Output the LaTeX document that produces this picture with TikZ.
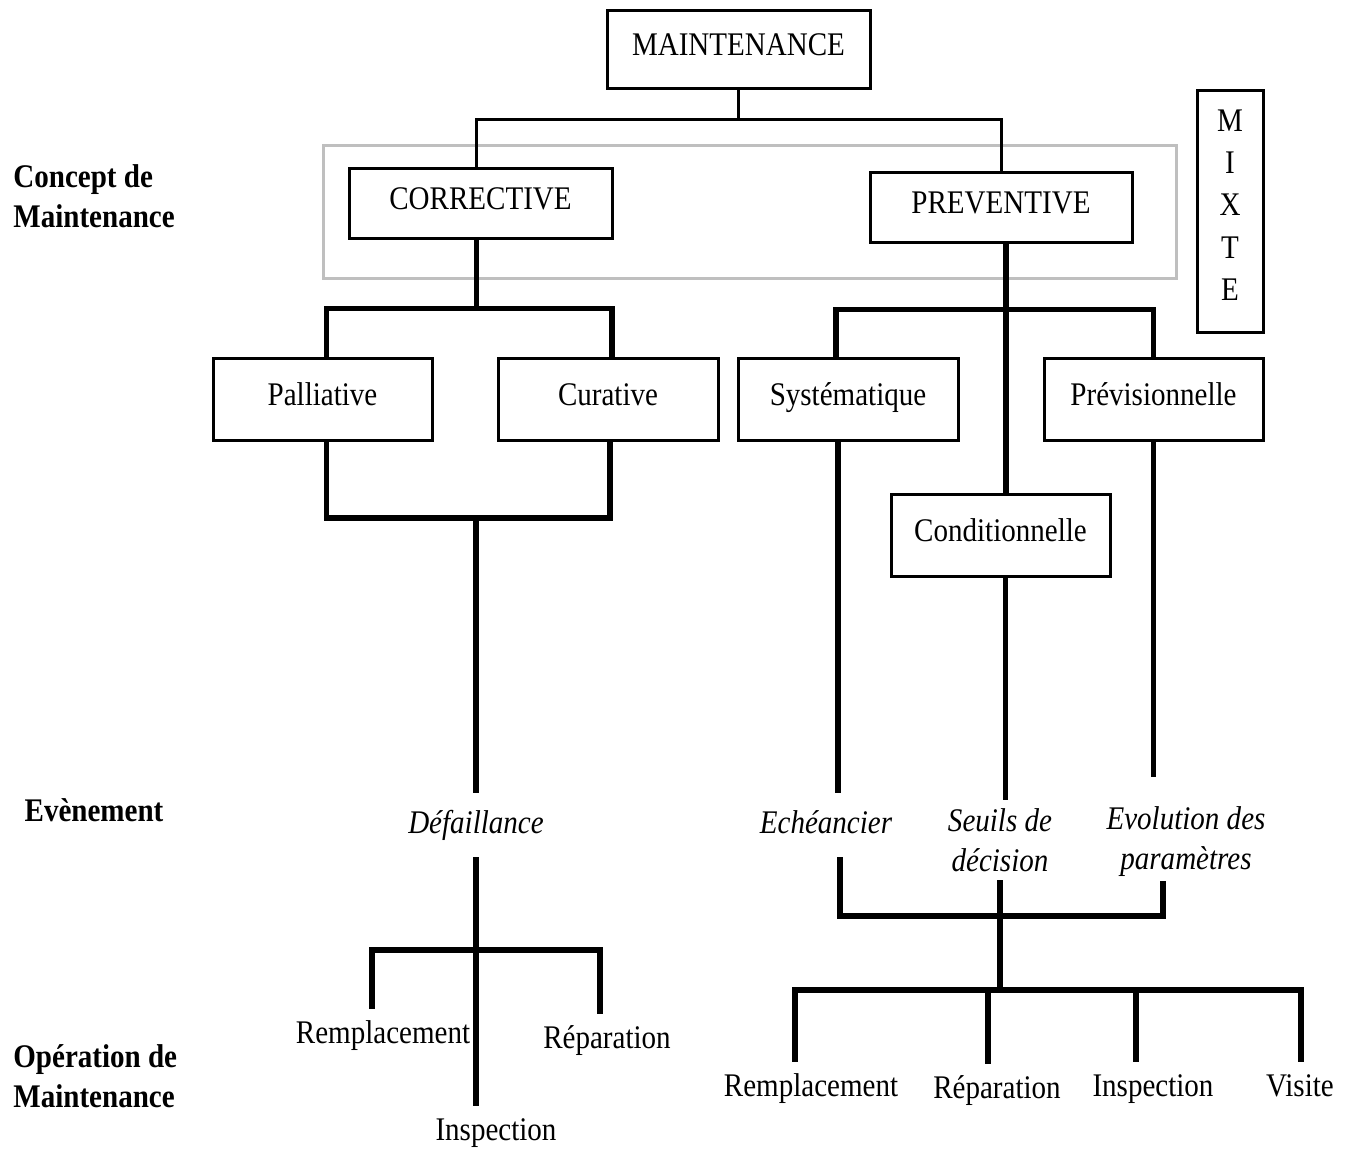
\documentclass[tikz,border=0pt]{standalone}
\usepackage{fontspec}
\setmainfont{Liberation Serif}[FakeStretch=0.88]
\newcommand{\diagfont}{\fontsize{16.5}{20}\selectfont}

\tikzset{
  box/.style={draw, line width=1.5pt, inner sep=0pt, font=\diagfont,
    text height=12pt, text depth=6pt},
  event/.style={font=\diagfont\itshape, align=center, inner xsep=0pt, inner ysep=8pt},
  oper/.style={font=\diagfont, inner xsep=0pt, inner ysep=5pt,
    text height=12pt, text depth=4pt},
  level/.style={font=\diagfont\bfseries, align=left, inner sep=0pt},
  thinlink/.style={line width=1.5pt},
  link/.style={line width=2.6pt}
}

\begin{document}
\begin{tikzpicture}[x=0.5pt, y=-0.5pt]
    \fill[white] (0,0) rectangle (1351,1148);
    \useasboundingbox (0,0) rectangle (1351,1148);

    % Concept frame
    \draw[black!25, line width=1.5pt] (323,145) rectangle (1176,278);

    % Boxes
    \node[box, minimum width=131.5pt, minimum height=39pt] (main) at (738.5,49) {MAINTENANCE};
    \node[box, minimum width=131.5pt, minimum height=35pt] (corr) at (480.5,203) {CORRECTIVE};
    \node[box, minimum width=131pt, minimum height=35pt] (prev) at (1001,207) {PREVENTIVE};
    \node[draw, line width=1.5pt, font=\fontsize{16.5}{21.2}\selectfont, align=center,
          text depth=6pt, minimum width=33pt, minimum height=121pt] (mixte) at (1230,211)
          {M\\I\\X\\T\\E};
    \node[box, minimum width=109.5pt, minimum height=41pt] (pall) at (322.5,399) {Palliative};
    \node[box, minimum width=110pt, minimum height=41pt] (cur) at (608,399) {Curative};
    \node[box, minimum width=110pt, minimum height=41pt] (syst) at (848,399) {Systématique};
    \node[box, minimum width=109.5pt, minimum height=41pt] (previ) at (1153.5,399) {Prévisionnelle};
    \node[box, minimum width=109.5pt, minimum height=41pt] (cond) at (1000.5,535) {Conditionnelle};

    % Level labels
    \node[level, anchor=west] (lconc) at (13,196) {Concept de\\Maintenance};
    \node[level] (levt) at (94,810) {Evènement};
    \node[level, anchor=west] (lop) at (13,1076) {Opération de\\Maintenance};

    % Events
    \node[event, text height=12pt, text depth=4pt] (def) at (476,825) {Défaillance};
    \node[event, text height=12pt, text depth=4pt] (eche) at (826,825) {Echéancier};
    \node[event, inner ysep=4pt] (seuil) at (1000,840) {Seuils de\\décision};
    \node[event, inner ysep=2pt] (evol) at (1186,842) {Evolution des\\paramètres};

    % Operations
    \node[oper] (l1) at (383,1035) {Remplacement};
    \node[oper] (l2) at (607,1040) {Réparation};
    \node[oper] (l3) at (496,1132) {Inspection};
    \node[oper] (r1) at (811,1088) {Remplacement};
    \node[oper] (r2) at (997,1090) {Réparation};
    \node[oper] (r3) at (1153,1088) {Inspection};
    \node[oper] (r4) at (1300,1088) {Visite};

    % Top split
    \draw[thinlink] (main.south) -- ++(0,30) coordinate (mj);
    \draw[thinlink] ([xshift=-2pt]corr.north) |- (mj) -| (prev.north);

    % Corrective branch
    \draw[link] ([xshift=-2pt]corr.south) -- ++(0,69) coordinate (cj);
    \draw[link] ([xshift=2pt]pall.north) |- (cj) -| ([xshift=2pt]cur.north);
    \coordinate (pj) at (476,518);
    \draw[link] ([xshift=2pt]pall.south) |- (pj) -| ([xshift=1pt]cur.south);
    \draw[link] (pj) -- (def.north);
    \coordinate (dj) at (476,950);
    \draw[link] (def.south) -- (def.south |- l3.north);
    \draw[link] ([xshift=-5.5pt]l1.north) |- (dj) -| ([xshift=-3.5pt]l2.north);

    % Preventive branch
    \draw[link] ([xshift=2.5pt]prev.south) -- ++(0,66) coordinate (sj);
    \draw[link] ([xshift=-6pt]syst.north) |- (sj) -| (previ.north);
    \draw[link] (sj) -- (sj |- cond.north);
    \draw[link] ([xshift=-5pt]syst.south) -- ([xshift=-5pt]syst.south |- eche.north);
    \draw[link] ([xshift=2.5pt]cond.south) -- ([xshift=2.5pt]cond.south |- seuil.north);
    \draw[link, shorten >=13pt] (previ.south) -- (previ.south |- evol.north);

    % Preventive events to operations
    \coordinate (ej) at (999,916);
    \coordinate (oj) at (999,990);
    \draw[link] ([xshift=7pt]eche.south) |- (ej) -| ([xshift=-11.5pt]evol.south);
    \draw[link] (seuil.south) -- (seuil.south |- oj);
    \draw[link] ([xshift=-8pt]r1.north) |- (oj) -| ([xshift=0.5pt]r4.north);
    \draw[link] ([xshift=-4.5pt]r2.north) -- ([xshift=-4.5pt]r2.north |- oj);
    \draw[link] ([xshift=-8.5pt]r3.north) -- ([xshift=-8.5pt]r3.north |- oj);
\end{tikzpicture}
\end{document}
